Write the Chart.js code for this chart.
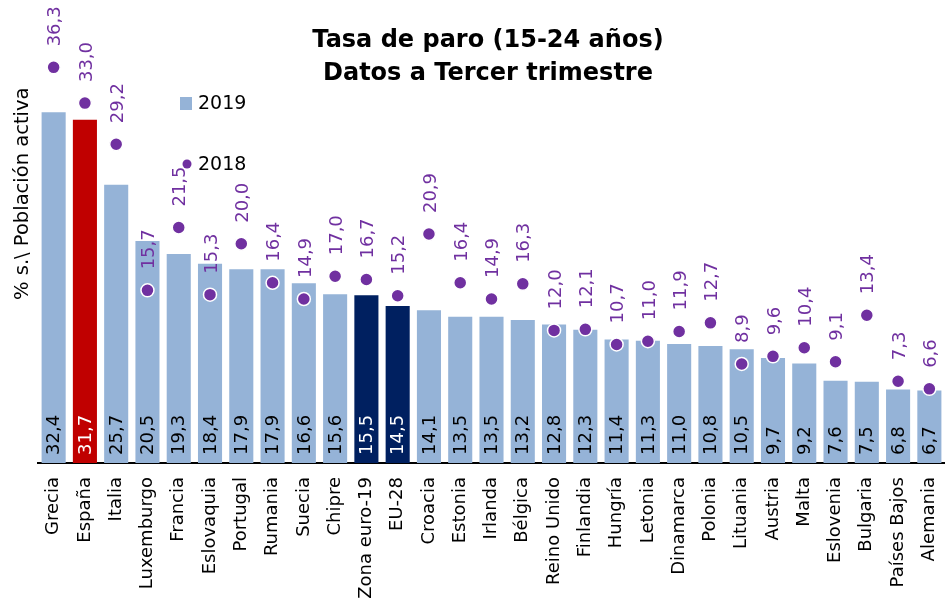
<!DOCTYPE html>
<html>
<head>
<meta charset="utf-8">
<script src="https://cdn.jsdelivr.net/npm/chart.js@4.4.1/dist/chart.umd.min.js"></script>
<style>
  body { margin: 0; background: #fff; }
  #wrap { width: 945px; height: 605px; }
</style>
</head>
<body>
<div id="wrap"><canvas id="paroChart" width="945" height="605"></canvas></div>
<script>
const countries = ['Grecia', 'España', 'Italia', 'Luxemburgo', 'Francia', 'Eslovaquia', 'Portugal', 'Rumania',
    'Suecia', 'Chipre', 'Zona euro-19', 'EU-28', 'Croacia', 'Estonia', 'Irlanda', 'Bélgica', 'Reino Unido',
    'Finlandia', 'Hungría', 'Letonia', 'Dinamarca', 'Polonia', 'Lituania', 'Austria', 'Malta', 'Eslovenia',
    'Bulgaria', 'Países Bajos', 'Alemania'];
const values2019 = [32.4, 31.7, 25.7, 20.5, 19.3, 18.4, 17.9, 17.9, 16.6, 15.6, 15.5, 14.5, 14.1, 13.5, 13.5,
    13.2, 12.8, 12.3, 11.4, 11.3, 11.0, 10.8, 10.5, 9.7, 9.2, 7.6, 7.5, 6.8, 6.7];
const values2018 = [36.3, 33.0, 29.2, 15.7, 21.5, 15.3, 20.0, 16.4, 14.9, 17.0, 16.7, 15.2, 20.9, 16.4, 14.9,
    16.3, 12.0, 12.1, 10.7, 11.0, 11.9, 12.7, 8.9, 9.6, 10.4, 9.1, 13.4, 7.3, 6.6];

const FONT = "'DejaVu Sans', sans-serif";
const PURPLE = '#7030A0';

// colours per bar: Spain red, euro aggregates dark blue
const barColors = countries.map(c => {
    if (c === 'España') return '#C00000';
    if (c === 'Zona euro-19' || c === 'EU-28') return '#002060';
    return '#95B3D7';
});
const barLabelColors = countries.map(c =>
    (c === 'España' || c === 'Zona euro-19' || c === 'EU-28') ? '#ffffff' : '#000000');

function fmt(v) {
    return v.toFixed(1).replace('.', ',');
}

// draws the rotated value labels, title, legend and axis title
const extrasPlugin = {
    id: 'extras',
    afterDatasetsDraw(chart) {
        const ctx = chart.ctx;
        const bars = chart.getDatasetMeta(0).data;
        const points = chart.getDatasetMeta(1).data;
        const base = chart.scales.y.getPixelForValue(0);

        ctx.save();
        ctx.font = '18px ' + FONT;
        ctx.textAlign = 'left';
        ctx.textBaseline = 'middle';

        bars.forEach((bar, i) => {
            ctx.save();
            ctx.translate(bar.x + 1, base - 8);
            ctx.rotate(-Math.PI / 2);
            ctx.fillStyle = barLabelColors[i];
            ctx.fillText(fmt(values2019[i]), 0, 0);
            ctx.restore();
        });

        points.forEach((pt, i) => {
            ctx.save();
            ctx.translate(pt.x + 2, pt.y - 21);
            ctx.rotate(-Math.PI / 2);
            ctx.fillStyle = PURPLE;
            ctx.fillText(fmt(values2018[i]), 0, 0);
            ctx.restore();
        });
        ctx.restore();
    },
    afterDraw(chart) {
        const ctx = chart.ctx;
        ctx.save();

        // title
        ctx.fillStyle = '#000';
        ctx.font = 'bold 24px ' + FONT;
        ctx.textAlign = 'center';
        ctx.textBaseline = 'alphabetic';
        ctx.fillText('Tasa de paro (15-24 años)', 488, 47);
        ctx.fillText('Datos a Tercer trimestre', 488, 80);

        // legend
        ctx.font = '19px ' + FONT;
        ctx.textAlign = 'left';
        ctx.textBaseline = 'middle';
        ctx.fillStyle = '#95B3D7';
        ctx.fillRect(180, 97, 12, 13);
        ctx.fillStyle = '#000';
        ctx.fillText('2019', 198, 104);
        ctx.fillStyle = PURPLE;
        ctx.beginPath();
        ctx.arc(187, 164, 4.5, 0, Math.PI * 2);
        ctx.fill();
        ctx.fillStyle = '#000';
        ctx.fillText('2018', 198, 165);

        // y axis title
        ctx.save();
        ctx.translate(23, 300);
        ctx.rotate(-Math.PI / 2);
        ctx.font = '19.5px ' + FONT;
        ctx.textAlign = 'left';
        ctx.textBaseline = 'middle';
        ctx.fillText('% s.\\ Población activa', 0, 0);
        ctx.restore();

        ctx.restore();
    }
};

const ctx = document.getElementById('paroChart').getContext('2d');
new Chart(ctx, {
    type: 'bar',
    data: {
        labels: countries,
        datasets: [{
            label: '2019',
            data: values2019,
            backgroundColor: barColors,
            barPercentage: 0.77,
            categoryPercentage: 1,
            order: 1
        },
        {
            label: '2018',
            type: 'line',
            data: values2018,
            yAxisID: 'y2',
            showLine: false,
            pointRadius: 6.5,
            pointBorderWidth: 1.5,
            pointBackgroundColor: PURPLE,
            pointBorderColor: '#ffffff',
            order: 0
        }
        ]
    },
    options: {
        responsive: false,
        animation: false,
        devicePixelRatio: 1,
        layout: {
            autoPadding: false,
            padding: { left: 38, top: 30, right: -2, bottom: 0 }
        },
        plugins: {
            legend: { display: false },
            title: { display: false },
            tooltip: { enabled: false }
        },
        scales: {
            x: {
                grid: { display: false, drawTicks: false },
                border: { display: true, color: '#000', width: 2 },
                ticks: {
                    autoSkip: false,
                    minRotation: 90,
                    maxRotation: 90,
                    padding: 14,
                    color: '#000',
                    font: { family: FONT, size: 18 }
                },
                afterFit: (scale) => {
                    scale.height = 142;
                    scale.paddingLeft = 0;
                    scale.paddingRight = 0;
                }
            },
            y: {
                display: false,
                min: 0,
                max: 40
            },
            y2: {
                display: false,
                min: -0.25,
                max: 39.75
            }
        }
    },
    plugins: [extrasPlugin]
});
</script>
</body>
</html>
